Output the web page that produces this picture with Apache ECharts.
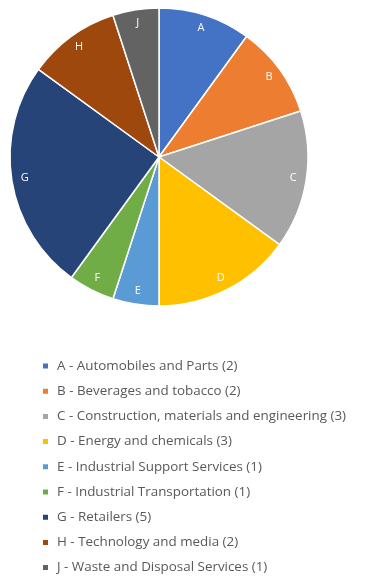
<!DOCTYPE html>
<html><head><meta charset="utf-8">
<script src="https://cdn.jsdelivr.net/npm/echarts@6/dist/echarts.min.js"></script>
<style>html,body{margin:0;padding:0;background:#fff}#c{width:372px;height:582px}</style>
</head><body><div id="c"></div>
<script>
const letters = ['A','B','C','D','E','F','G','H','J'];
const names = ['A - Automobiles and Parts (2)','B - Beverages and tobacco (2)','C - Construction, materials and engineering (3)','D - Energy and chemicals (3)','E - Industrial Support Services (1)','F - Industrial Transportation (1)','G - Retailers (5)','H - Technology and media (2)','J - Waste and Disposal Services (1)'];
const values = [2,2,3,3,1,1,5,2,1];
const colors = ['#4472C4','#ED7D31','#A5A5A5','#FFC000','#5B9BD5','#70AD47','#264478','#9E480E','#636363'];

const chart = echarts.init(document.getElementById('c'), null, {renderer:'canvas'});
const mainData = names.map((n,i)=>({name:n, value:values[i], itemStyle:{color:colors[i]}}));
const labelData = names.map((n,i)=>({name:n, value:values[i]}));
chart.setOption({
  animation:false,
  legend:{
    orient:'vertical', left:41, top:358, height:240, padding:0,
    itemWidth:7, itemHeight:7, itemGap:9.2,
    icon:'rect',
    data:names,
    textStyle:{fontFamily:'Open Sans', fontSize:13.4, color:'#595959', lineHeight:16, padding:[0,0,0,3]}
  },
  series:[
    {type:'pie', center:[159,157], radius:[0,149], startAngle:90, clockwise:true,
     data:mainData, label:{show:false}, labelLine:{show:false},
     itemStyle:{borderColor:'#fff', borderWidth:1.5}, emphasis:{disabled:true}},
    {type:'pie', center:[159,157], radius:[117,149], startAngle:90, clockwise:true, silent:true,
     data:labelData,
     itemStyle:{color:'rgba(0,0,0,0)', borderWidth:0},
     label:{show:true, position:'inside', color:'#fff', fontFamily:'Open Sans', fontSize:11,
       formatter:(p)=>letters[p.dataIndex]},
     labelLine:{show:false}, emphasis:{disabled:true}}
  ]
});
</script></body></html>
